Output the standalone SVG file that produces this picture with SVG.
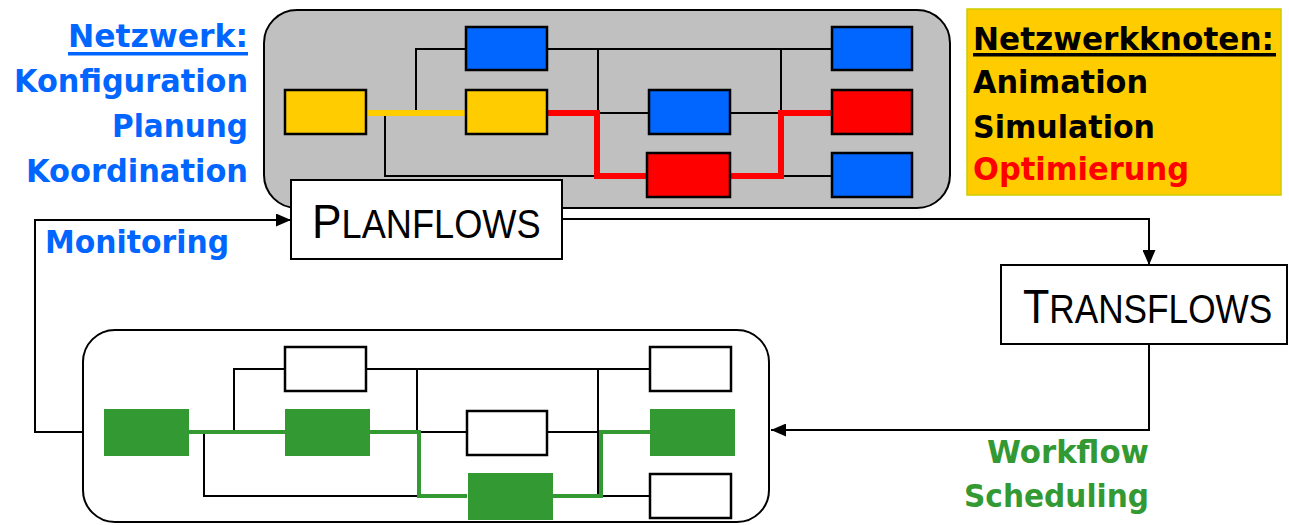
<svg xmlns="http://www.w3.org/2000/svg" width="1289" height="525" viewBox="0 0 1289 525">
<style>
.frame{stroke:#000;stroke-width:2}
.n{stroke:#000;stroke-width:2.5}
.blue{fill:#0066FF}
.yel{fill:#FFCC00}
.red{fill:#FF0000}
.wht{fill:#FFFFFF;stroke:#000;stroke-width:2.5}
.grn{fill:#339933}
.ln{fill:none;stroke:#000;stroke-width:2}
.lt{font-family:"DejaVu Sans",sans-serif;font-weight:bold;font-size:32px}
.cap{font-family:"Liberation Sans",Arial,sans-serif;fill:#000}
</style>
<defs>
<marker id="arr" markerUnits="userSpaceOnUse" markerWidth="15" markerHeight="13" refX="15" refY="6.5" orient="auto">
<path d="M0,0 L15,6.5 L0,13 Z" fill="#000"/>
</marker>
</defs>

<g id="network-top">
<rect x="264" y="10" width="686" height="198" rx="33" ry="33" fill="#C0C0C0" class="frame"/>
</g>

<g id="network-bottom">
<rect x="83" y="330" width="686" height="192" rx="32" ry="32" fill="#FFFFFF" class="frame"/>
</g>

<g id="connectors">
<path class="ln" d="M416,113 V49 H466 M547,49 H832 M598,49 V113 H649 M730,113 H781 M781,49 V113 M385,113 V176 H598 M781,176 H832"/>
<path d="M366,113 H466" fill="none" stroke="#FFCC00" stroke-width="6"/>
<path d="M547,113 H597 V176 H647 M730,176 H781 V113 H832" fill="none" stroke="#FF0000" stroke-width="6"/>
<path class="ln" d="M234,432 V369 H285 M366,369 H650 M417,369 V432 M598,369 V496 M419,432 H467 M547,432 H598 M204,432 V496 H417 M598,496 H650"/>
<path d="M189,432 H285 M370,432 H419 V496 H467 M552,496 H601 V432 H650" fill="none" stroke="#339933" stroke-width="4"/>
<path class="ln" d="M83,432 H35 V220 H291" marker-end="url(#arr)"/>
<path class="ln" d="M562,219 H1149 V265" marker-end="url(#arr)"/>
<path class="ln" d="M1149,344 V430 H771" marker-end="url(#arr)"/>
</g>

<g id="top-nodes">
<rect id="t-y1" x="285" y="90" width="81" height="44" class="yel n"/>
<rect id="t-y2" x="466" y="90" width="81" height="44" class="yel n"/>
<rect id="t-b1" x="466" y="27" width="81" height="43" class="blue n"/>
<rect id="t-b2" x="649" y="90" width="81" height="44" class="blue n"/>
<rect id="t-r1" x="647" y="153" width="83" height="44" class="red n"/>
<rect id="t-b3" x="832" y="27" width="80" height="43" class="blue n"/>
<rect id="t-r2" x="832" y="90" width="80" height="44" class="red n"/>
<rect id="t-b4" x="832" y="153" width="80" height="44" class="blue n"/>
</g>

<g id="bottom-nodes">
<rect id="b-g1" x="104" y="409" width="85" height="47" class="grn"/>
<rect id="b-g2" x="285" y="409" width="85" height="47" class="grn"/>
<rect id="b-w1" x="285" y="347" width="81" height="44" class="wht"/>
<rect id="b-w2" x="467" y="411" width="80" height="44" class="wht"/>
<rect id="b-g3" x="468" y="473" width="85" height="47" class="grn"/>
<rect id="b-w3" x="650" y="347" width="81" height="44" class="wht"/>
<rect id="b-g4" x="650" y="409" width="85" height="47" class="grn"/>
<rect id="b-w4" x="650" y="474" width="81" height="44" class="wht"/>
</g>

<g id="planflows">
<rect x="291" y="180" width="271" height="79" fill="#FFFFFF" class="frame"/>
<text class="cap" transform="translate(312,238) scale(0.905,1)" x="0" y="0"><tspan font-size="49">P</tspan><tspan font-size="40">LANFLOWS</tspan></text>
</g>

<g id="transflows">
<rect x="1001" y="265" width="286" height="79" fill="#FFFFFF" class="frame"/>
<text class="cap" transform="translate(1023,323) scale(0.88,1)" x="0" y="0"><tspan font-size="49">T</tspan><tspan font-size="40">RANSFLOWS</tspan></text>
</g>

<g id="legend-network" fill="#0066FF">
<text class="lt" x="248" y="47" text-anchor="end" textLength="180" lengthAdjust="spacingAndGlyphs">Netzwerk:</text>
<rect x="68" y="52" width="180" height="3.5"/>
<text class="lt" x="248" y="92" text-anchor="end" textLength="234" lengthAdjust="spacingAndGlyphs">Konfiguration</text>
<text class="lt" x="248" y="137" text-anchor="end" textLength="136" lengthAdjust="spacingAndGlyphs">Planung</text>
<text class="lt" x="248" y="182" text-anchor="end" textLength="222" lengthAdjust="spacingAndGlyphs">Koordination</text>
</g>

<g id="label-monitoring" fill="#0066FF">
<text class="lt" x="45" y="253" textLength="184" lengthAdjust="spacingAndGlyphs">Monitoring</text>
</g>

<g id="legend-nodes">
<rect x="967" y="9" width="314" height="186" fill="#FFCC00" stroke="#CCCC00" stroke-width="1.5"/>
<text class="lt" x="973" y="50" fill="#000" textLength="301" lengthAdjust="spacingAndGlyphs">Netzwerkknoten:</text>
<rect x="973" y="53" width="303" height="3.5" fill="#000"/>
<text class="lt" x="973" y="93" fill="#000" textLength="175" lengthAdjust="spacingAndGlyphs">Animation</text>
<text class="lt" x="973" y="138" fill="#000" textLength="182" lengthAdjust="spacingAndGlyphs">Simulation</text>
<text class="lt" x="973" y="180" fill="#FF0000" textLength="216" lengthAdjust="spacingAndGlyphs">Optimierung</text>
</g>

<g id="label-scheduling" fill="#339933">
<text class="lt" x="1149" y="463" text-anchor="end" textLength="162" lengthAdjust="spacingAndGlyphs">Workflow</text>
<text class="lt" x="1149" y="507" text-anchor="end" textLength="185" lengthAdjust="spacingAndGlyphs">Scheduling</text>
</g>
</svg>
